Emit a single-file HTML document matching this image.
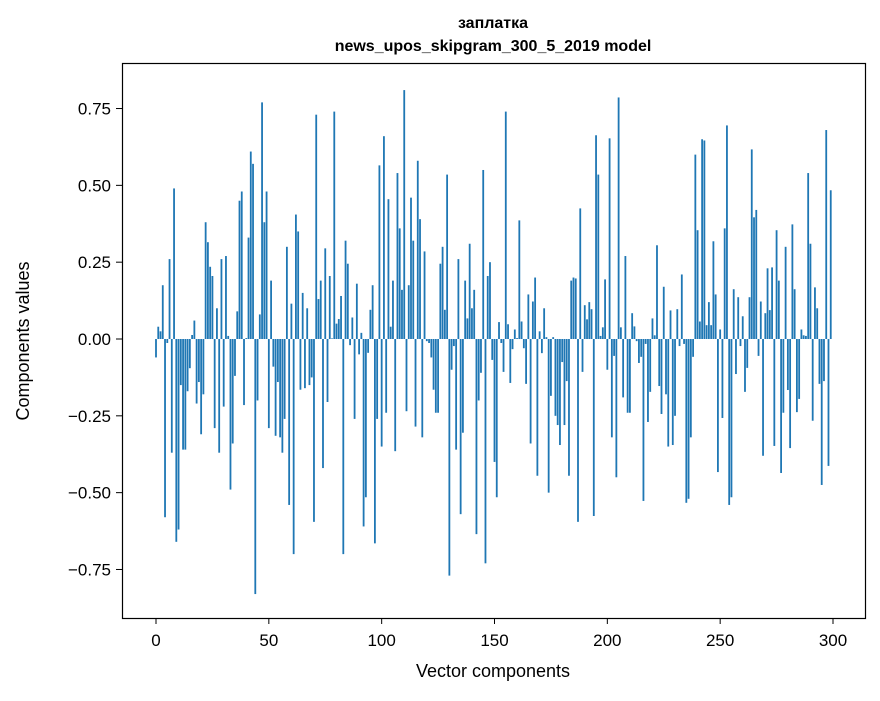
<!DOCTYPE html>
<html><head><meta charset="utf-8"><style>
body{margin:0;background:#fff;}
svg text{font-family:"Liberation Sans","DejaVu Sans",sans-serif;fill:#000;}
</style></head><body>
<svg id="chart" width="880" height="696" xmlns="http://www.w3.org/2000/svg">
<rect width="880" height="696" fill="#fff"/>
<text x="493" y="28" font-size="16" font-weight="bold" text-anchor="middle">заплатка</text>
<text x="493" y="51" font-size="16" font-weight="bold" text-anchor="middle">news_upos_skipgram_300_5_2019 model</text>
<g id="bars"></g>
<rect x="122.5" y="63.5" width="743" height="555" fill="none" stroke="#000" stroke-width="1.2"/>
<g id="xticks"></g>
<g id="yticks"></g>
<text x="493" y="677" font-size="18" text-anchor="middle">Vector components</text>
<text transform="translate(29,341) rotate(-90)" font-size="18" text-anchor="middle">Components values</text>
</svg>
<script>
const values = [
-0.06,0.04,0.025,0.175,-0.58,-0.013,0.26,-0.37,0.49,-0.66,
-0.62,-0.15,-0.36,-0.36,-0.17,-0.095,0.013,0.06,-0.21,-0.14,
-0.31,-0.18,0.38,0.315,0.235,0.205,-0.29,0.10,-0.37,0.26,
-0.22,0.27,0.01,-0.49,-0.34,-0.12,0.09,0.45,0.48,-0.215,
0.003,0.33,0.61,0.57,-0.83,-0.20,0.08,0.77,0.38,0.48,
-0.29,0.19,-0.09,-0.315,-0.14,-0.32,-0.37,-0.26,0.30,-0.54,
0.115,-0.70,0.405,0.35,-0.165,0.15,-0.16,0.10,-0.15,-0.125,
-0.595,0.73,0.13,0.19,-0.42,0.295,-0.205,0.205,0.002,0.74,
0.05,0.065,0.14,-0.70,0.32,0.245,-0.02,0.07,-0.26,0.18,
-0.05,0.02,-0.61,-0.515,-0.045,0.095,0.175,-0.665,-0.26,0.565,
-0.35,0.66,-0.24,0.455,0.04,0.19,-0.365,0.54,0.36,0.16,
0.81,-0.235,0.175,0.46,0.32,-0.285,0.58,0.39,-0.32,0.285,
-0.007,-0.013,-0.06,-0.165,-0.24,-0.24,0.245,0.30,0.095,0.535,
-0.77,-0.10,-0.023,-0.36,0.26,-0.57,-0.305,0.19,0.067,0.31,
0.10,0.16,-0.635,-0.20,-0.11,0.55,-0.73,0.205,0.25,-0.068,
-0.40,-0.515,0.055,-0.013,-0.107,0.74,0.048,-0.143,-0.033,0.031,
0.003,0.386,0.057,-0.03,-0.146,0.145,-0.34,0.122,0.20,-0.445,
0.025,-0.046,0.10,0.006,-0.50,-0.185,0.006,-0.25,-0.28,-0.345,
-0.075,-0.28,-0.137,-0.445,0.19,0.20,0.197,-0.595,0.425,-0.107,
0.11,0.064,0.12,0.097,-0.576,0.663,0.535,0.01,0.038,0.194,
-0.10,0.653,-0.32,-0.055,-0.45,0.786,0.038,-0.19,0.27,-0.24,
-0.24,0.084,0.041,-0.007,-0.078,-0.058,-0.527,-0.016,-0.27,-0.172,
0.067,0.012,0.305,-0.153,-0.244,0.17,-0.18,-0.35,0.093,-0.345,
-0.25,0.097,-0.023,0.21,-0.016,-0.533,-0.52,-0.32,-0.058,0.60,
0.354,0.057,0.65,0.646,0.045,0.12,0.045,0.318,0.145,-0.433,
0.031,-0.257,0.36,0.695,-0.54,-0.515,0.162,-0.114,0.136,-0.023,
0.074,-0.172,-0.094,0.136,0.617,0.396,0.42,-0.055,0.122,-0.38,
0.084,0.23,0.094,0.233,-0.348,0.354,0.19,-0.436,-0.24,0.30,
-0.166,-0.355,0.373,0.162,-0.238,-0.195,0.031,0.012,0.01,0.54,
0.31,-0.266,0.168,0.10,-0.146,-0.475,-0.137,0.68,-0.413,0.484
];
const xTickValues = [0,50,100,150,200,250,300];
const yTickValues = [0.75,0.5,0.25,0,-0.25,-0.5,-0.75];
const yTickLabels = ["0.75","0.50","0.25","0.00","\u22120.25","\u22120.50","\u22120.75"];

const NS = "http://www.w3.org/2000/svg";
function xScale(v){ return 156 + v * (677/300); }
function yScale(v){ return 339 - v * 307.3; }

const barsG = document.getElementById('bars');
values.forEach(function(v, i){
  const r = document.createElementNS(NS, 'rect');
  const x0 = xScale(i - 0.4), x1 = xScale(i + 0.4);
  const y0 = yScale(Math.max(v, 0)), y1 = yScale(Math.min(v, 0));
  r.setAttribute('x', x0);
  r.setAttribute('width', x1 - x0);
  r.setAttribute('y', y0);
  r.setAttribute('height', Math.max(y1 - y0, 0.3));
  r.setAttribute('fill', '#1f77b4');
  
  
  barsG.appendChild(r);
});

const xg = document.getElementById('xticks');
xTickValues.forEach(function(t){
  const x = xScale(t);
  const l = document.createElementNS(NS, 'line');
  l.setAttribute('x1', x); l.setAttribute('x2', x);
  l.setAttribute('y1', 618); l.setAttribute('y2', 624);
  l.setAttribute('stroke', '#000');
  
  
  xg.appendChild(l);
  const tx = document.createElementNS(NS, 'text');
  tx.setAttribute('x', x); tx.setAttribute('y', 646);
  tx.setAttribute('font-size', '17'); tx.setAttribute('text-anchor', 'middle');
  tx.textContent = String(t);
  
  
  xg.appendChild(tx);
});

const yg = document.getElementById('yticks');
yTickValues.forEach(function(t, i){
  const y = yScale(t);
  const l = document.createElementNS(NS, 'line');
  l.setAttribute('x1', 116); l.setAttribute('x2', 122);
  l.setAttribute('y1', y); l.setAttribute('y2', y);
  l.setAttribute('stroke', '#000');
  
  
  yg.appendChild(l);
  const tx = document.createElementNS(NS, 'text');
  tx.setAttribute('x', 111); tx.setAttribute('y', y + 6);
  tx.setAttribute('font-size', '17'); tx.setAttribute('text-anchor', 'end');
  tx.textContent = yTickLabels[i];
  
  
  yg.appendChild(tx);
});
</script>
</body></html>
